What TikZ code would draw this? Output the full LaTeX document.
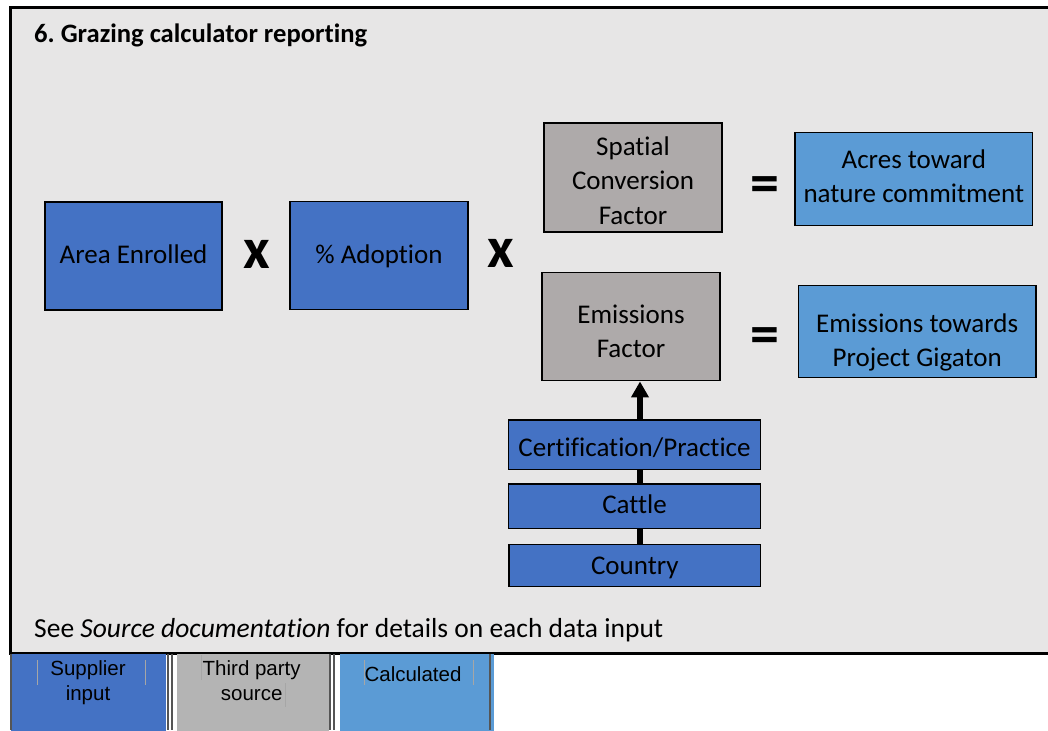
\documentclass[tikz,border=0pt]{standalone}
\usepackage{fontspec}
\setmainfont{Carlito}[Ligatures={NoCommon}]
\newfontfamily\legfont{Liberation Sans}
\usetikzlibrary{arrows.meta}
\frenchspacing
\definecolor{bgc}{HTML}{E7E6E6}
\definecolor{supblue}{HTML}{4472C4}
\definecolor{calcblue}{HTML}{5B9BD5}
\definecolor{tpgray}{HTML}{AEAAAA}
\definecolor{leggray}{HTML}{B4B4B4}
\definecolor{edgegray}{HTML}{555555}
\begin{document}
\begin{tikzpicture}[x=1pt,y=-1pt,
  box/.style={draw=black, line width=1.5pt, inner sep=0pt, align=center,
    font=\fontsize{27}{34.4}\selectfont, text=black},
  tb/.style={text height=#1, text depth=0pt},
  supplier/.style={box, fill=supblue},
  thirdparty/.style={box, fill=tpgray},
  calculated/.style={box, fill=calcblue},
  opsign/.style={inner sep=0pt, font=\fontsize{58}{60}\selectfont\bfseries},
  link/.style={line width=6pt, draw=black},
  legbox/.style={inner sep=0pt, draw=none, minimum height=77pt},
  legtext/.style={inner sep=0pt, align=center, font=\legfont\fontsize{20.5}{25}\selectfont},
  sepline/.style={draw=edgegray, line width=2pt},
  faint/.style={draw=gray!70, line width=0.8pt}
]
\useasboundingbox (0,0) rectangle (1048,730);
\clip (0,0) rectangle (1048,730);
% main panel
\draw[fill=bgc, line width=2.5pt] (10.5,7.5) rectangle (1060,653.5);
\node[anchor=base west, inner sep=0pt, font=\fontsize{26.6}{30}\selectfont\bfseries] (title) at (34,43) {6. Grazing calculator reporting};
\node[anchor=base west, inner sep=0pt, font=\fontsize{27.5}{30}\selectfont] (note) at (34,637) {See \textit{Source documentation} for details on each data input};
% boxes
\node[supplier, tb=15.4pt, minimum width=177pt, minimum height=108pt] (area) at (133.5,256) {Area Enrolled};
\node[supplier, tb=15.2pt, minimum width=178pt, minimum height=108pt] (adopt) at (379,255.7) {\% Adoption};
\node[thirdparty, tb=93.6pt, minimum width=178pt, minimum height=109pt] (scf) at (633,177.5) {Spatial\\Conversion\\Factor};
\node[thirdparty, tb=62pt, minimum width=178pt, minimum height=108pt] (ef) at (631,326.7) {Emissions\\Factor};
\node[calculated, tb=47.4pt, minimum width=237.7pt, minimum height=92.6pt] (acres) at (913.8,179) {Acres toward\\nature commitment};
\node[calculated, tb=70pt, minimum width=237.7pt, minimum height=92pt] (emis) at (917.2,331.7) {Emissions towards\\Project Gigaton};
\node[supplier, tb=22.6pt, minimum width=252.4pt, minimum height=49.3pt] (cert) at (634.5,444.7) {Certification/Practice};
\node[supplier, tb=13.6pt, minimum width=252.4pt, minimum height=44.3pt] (cattle) at (634.5,506.2) {Cattle};
\node[supplier, tb=17pt, minimum width=251.7pt, minimum height=42.4pt] (country) at (634.8,565.5) {Country};
% operators
\node[opsign] (x1) at (257,254) {x};
\node[opsign] (x2) at (501,253) {x};
\node[opsign] (eq1) at (765,190) {=};
\node[opsign] (eq2) at (765,341) {=};
% connectors
\coordinate (ax) at (640,0);
\draw[link] (country.north -| ax) -- (cattle.south -| ax);
\draw[link] (cattle.north -| ax) -- (cert.south -| ax);
\draw[link, -{Triangle[width=17pt,length=16pt]}] (cert.north -| ax) -- (ef.south -| ax);
% legend
\node[legbox, fill=supblue, minimum width=155pt, anchor=north west] (lsup) at (11,654) {};
\node[legbox, fill=leggray, minimum width=152pt, anchor=north west] (ltp) at (177,654) {};
\node[legbox, fill=calcblue, minimum width=154pt, anchor=north west] (lcalc) at (340,654) {};
\draw[sepline] (10.5,654) -- (10.5,730);
\draw[sepline] (167.7,654) -- (167.7,730);
\draw[sepline] (171.7,654) -- (171.7,730);
\draw[sepline] (330.3,654) -- (330.3,730);
\draw[sepline] (334.3,654) -- (334.3,730);
\draw[sepline] (490.2,654) -- (490.2,730);
\draw[faint] (37,660) -- (37,685);
\draw[faint] (145,660) -- (145,685);
\draw[faint] (201.7,655) -- (201.7,680);
\draw[faint] (285.7,683) -- (285.7,707);
\draw[faint] (364,660) -- (364,685);
\draw[faint] (473,660) -- (473,685);
\node[legtext] (tsup) at (88,682.2) {Supplier\\input};
\node[legtext] (ttp) at (251.7,681) {Third party\\source};
\node[legtext, anchor=base] (tcalc) at (413,681) {Calculated};
\end{tikzpicture}
\end{document}
